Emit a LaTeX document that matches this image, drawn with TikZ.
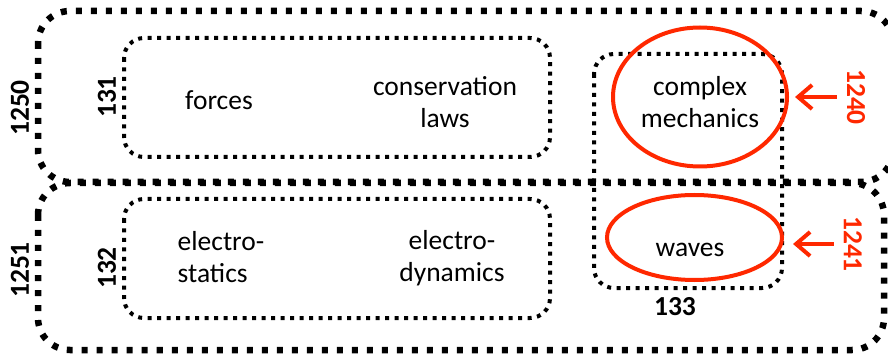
\documentclass[tikz,border=0pt]{standalone}
\usepackage{fontspec}
\setmainfont{Carlito}
\usepackage{xcolor}
\usetikzlibrary{shapes.geometric,arrows.meta}
\definecolor{hired}{RGB}{255,40,0}

\begin{document}
\begin{tikzpicture}[x=1pt,y=-1pt,
        bigbox/.style={line width=6.5pt, dash pattern=on 6pt off 9pt, rounded corners=32pt},
        smallbox/.style={line width=4pt, dash pattern=on 4pt off 5.5pt, rounded corners=20pt},
        topic/.style={font=\fontsize{27.5}{32}\selectfont, inner sep=0pt, anchor=base},
        tag/.style={font=\fontsize{27.5}{32}\selectfont\bfseries, inner sep=0pt},
        hilite/.style={ellipse, draw=hired, line width=4pt, inner sep=0pt},
        pointer/.style={hired, line width=4pt, -{Straight Barb[length=14pt,width=24pt]}}]
        \useasboundingbox (0,0) rectangle (888,355);
        % outer groups
        \draw[bigbox] (38,11) rectangle (893,182);
        \draw[bigbox] (38,183) rectangle (884,350);
        % inner groups
        \draw[smallbox] (124,38) rectangle (550,157);
        \draw[smallbox] (124,199) rectangle (550,318);
        \draw[smallbox] (594,54) rectangle (782,288);
        % topics (base = last line)
        \node[topic] (forces) at (219,110) {forces};
        \node[topic, align=center] (conslaws) at (445,128) {conservation\\laws};
        \node[topic, align=left] (estatics) at (221,282) {electro-\\statics};
        \node[topic, align=center] (edynamics) at (452,281) {electro-\\dynamics};
        \node[topic, align=center] (cmech) at (700,128) {complex\\mechanics};
        \node[topic] (waves) at (690,257) {waves};
        % highlighted topics
        \node[hilite, minimum width=174pt, minimum height=139pt] (ellcm) at (700,97) {};
        \node[hilite, minimum width=175pt, minimum height=85pt] (ellwv) at (694.5,237.5) {};
        % reference numbers
        \node[tag, rotate=90] (lbl1250) at (20,108) {1250};
        \node[tag, rotate=90] (lbl1251) at (20,270) {1251};
        \node[tag, rotate=90] (lbl131) at (107,97) {131};
        \node[tag, rotate=90] (lbl132) at (107,268) {132};
        \node[tag, anchor=base] (lbl133) at (675,315) {133};
        \node[tag, hired, rotate=-90] (lbl1240) at (856,97) {1240};
        \node[tag, hired, rotate=-90] (lbl1241) at (853,244) {1241};
        \draw[pointer, shorten <=10pt, shorten >=6pt] (lbl1240) -- (lbl1240 -| ellcm.east);
        \draw[pointer, shorten <=10pt, shorten >=9pt] (lbl1241) -- (lbl1241 -| ellwv.east);
    \end{tikzpicture}
\end{document}
